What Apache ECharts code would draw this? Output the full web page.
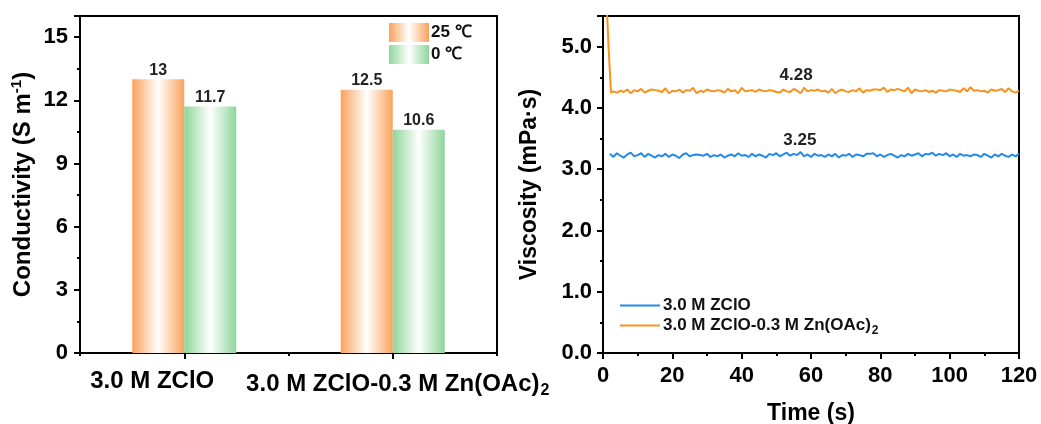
<!DOCTYPE html>
<html>
<head>
<meta charset="utf-8">
<script src="https://cdn.jsdelivr.net/npm/echarts@6/dist/echarts.min.js"></script>
<style>html,body{margin:0;padding:0;background:#fff;}#c{width:1041px;height:424px;}</style>
</head>
<body>
<div id="c"></div>
<script>
// ---------- data ----------
const categories = ['3.0 M ZClO', '3.0 M ZClO-0.3 M Zn(OAc)2'];
const cond25 = [13, 12.5];
const cond0 = [11.7, 10.6];
const barNames = ['25 ℃', '0 ℃'];

const lineNames = ['3.0 M ZClO', '3.0 M ZClO-0.3 M Zn(OAc)2'];
const viscAvg = [3.25, 4.28];

// blue: sampled every 1 s from t = 2 s
const blueStartT = 2;
const blueVals = [
3.25,3.20,3.26,3.22,3.19,3.24,3.27,3.21,3.23,3.26,3.20,3.25,3.22,3.19,3.23,3.21,3.25,3.20,3.24,3.22,
3.18,3.24,3.26,3.21,3.23,3.24,3.23,3.22,3.25,3.20,3.23,3.21,3.24,3.19,3.22,3.24,3.21,3.26,3.22,3.23,
3.20,3.25,3.21,3.24,3.22,3.19,3.25,3.23,3.26,3.21,3.24,3.27,3.22,3.25,3.23,3.28,3.21,3.24,3.20,3.25,
3.22,3.23,3.20,3.24,3.21,3.25,3.19,3.23,3.22,3.25,3.20,3.24,3.23,3.21,3.25,3.25,3.26,3.21,3.24,3.20,
3.23,3.25,3.22,3.19,3.23,3.21,3.25,3.22,3.24,3.26,3.21,3.25,3.24,3.27,3.22,3.25,3.23,3.26,3.21,3.24,
3.20,3.25,3.22,3.23,3.21,3.24,3.23,3.20,3.25,3.22,3.19,3.24,3.21,3.25,3.22,3.20,3.24,3.21,3.25
];

// orange: initial drop, then sampled every 1 s from t = 3 s
const orangeHeadT = [0.9, 1.6, 2.3];
const orangeHeadV = [5.9, 5.0, 4.25];
const orangeStartT = 3;
const orangeVals = [
4.27,4.25,4.28,4.26,4.30,4.24,4.29,4.27,4.31,4.25,4.28,4.30,4.29,4.28,4.26,4.32,4.24,4.28,4.27,4.30,
4.25,4.29,4.28,4.33,4.24,4.28,4.26,4.30,4.28,4.27,4.29,4.28,4.25,4.31,4.27,4.29,4.24,4.33,4.27,4.28,
4.29,4.26,4.30,4.28,4.27,4.29,4.28,4.26,4.25,4.30,4.27,4.26,4.31,4.28,4.24,4.33,4.27,4.29,4.28,4.30,
4.27,4.28,4.25,4.31,4.24,4.28,4.30,4.27,4.26,4.29,4.27,4.32,4.25,4.29,4.28,4.30,4.30,4.29,4.33,4.26,
4.30,4.29,4.31,4.29,4.27,4.33,4.24,4.30,4.28,4.27,4.29,4.26,4.28,4.25,4.29,4.28,4.27,4.30,4.29,4.28,
4.26,4.32,4.27,4.34,4.28,4.29,4.27,4.28,4.25,4.30,4.28,4.29,4.31,4.26,4.32,4.27,4.25,4.28
];

// ---------- build ----------
const blueData = blueVals.map((v, i) => [blueStartT + i, v]);
const orangeData = orangeHeadT.map((t, i) => [t, orangeHeadV[i]])
  .concat(orangeVals.map((v, i) => [orangeStartT + i, v]));

const FONT = "'Liberation Sans', Arial, sans-serif";
const ORANGE_BAR = '#FAA25C';
const GREEN_BAR = '#8ED59A';
const BLUE = '#2389EA';
const ORANGE = '#F7921E';

function grad(c) {
  return { type: 'linear', x: 0, y: 0, x2: 1, y2: 0,
    colorStops: [{ offset: 0, color: c }, { offset: 0.5, color: '#ffffff' }, { offset: 1, color: c }] };
}
function subFmt(s) {
  // render trailing "2" in "(OAc)2" as subscript
  if (/\)2$/.test(s)) return '{a|' + s.slice(0, -1) + '}{sub|2}';
  return '{a|' + s + '}';
}

// category label boxes: shift the first label left, second slightly right (as in the original)
const catLabelPad = [[0, 64, 0, 0], [0, 0, 0, 10]];
const categoryData = categories.map((c, i) => ({ value: c, textStyle: { padding: catLabelPad[i] } }));

const chart = echarts.init(document.getElementById('c'), null, { renderer: 'canvas' });

const axisLine = { show: true, lineStyle: { color: '#000', width: 2 } };

const option = {
  animation: false,
  backgroundColor: '#fff',
  textStyle: { fontFamily: FONT },
  grid: [
    { left: 80, top: 16, width: 417, height: 337, show: true, borderColor: '#000', borderWidth: 2,
      backgroundColor: 'transparent', containLabel: false, outerBoundsMode: 'none' },
    { left: 603, top: 16, width: 416, height: 337, show: true, borderColor: '#000', borderWidth: 2,
      backgroundColor: 'transparent', containLabel: false, outerBoundsMode: 'none' }
  ],
  legend: [
    {
      data: barNames,
      orient: 'vertical', left: 389, top: 23, padding: 0,
      itemWidth: 40, itemHeight: 19, itemGap: 3,
      icon: 'rect',
      textStyle: { fontFamily: FONT, fontSize: 17, fontWeight: 'bold', color: '#111', padding: [0, 0, 0, -3] }
    },
    {
      data: lineNames,
      orient: 'vertical', left: 620, top: 297, padding: 0,
      itemWidth: 40, itemHeight: 2, itemGap: 3,
      icon: 'rect',
      formatter: subFmt,
      textStyle: {
        fontFamily: FONT, fontSize: 17, fontWeight: 'bold', color: '#111', padding: [0, 0, 0, -2],
        rich: {
          a: { fontFamily: FONT, fontSize: 17, fontWeight: 'bold', color: '#111' },
          sub: { fontFamily: FONT, fontSize: 12, fontWeight: 'bold', color: '#111', verticalAlign: 'bottom', padding: [10, 0, 0, 1] }
        }
      }
    }
  ],
  xAxis: [
    {
      type: 'category', gridIndex: 0, data: categoryData,
      axisLine: axisLine,
      axisTick: { show: false },
      axisLabel: {
        interval: 0, hideOverlap: false,
        margin: 16, fontFamily: FONT, fontSize: 24, fontWeight: 'bold', color: '#000',
        formatter: subFmt,
        rich: {
          a: { fontFamily: FONT, fontSize: 24, fontWeight: 'bold', color: '#000' },
          sub: { fontFamily: FONT, fontSize: 16, fontWeight: 'bold', color: '#000', verticalAlign: 'bottom', padding: [14, 0, 0, 1] }
        }
      },
      splitLine: { show: false }
    },
    {
      type: 'value', gridIndex: 0, min: 0, max: 4, interval: 2, position: 'bottom',
      axisLine: { show: false },
      axisTick: { show: true, length: 3, lineStyle: { color: '#000', width: 2 } },
      minorTick: { show: true, splitNumber: 2, length: 6, lineStyle: { color: '#000', width: 2 } },
      axisLabel: { show: false },
      splitLine: { show: false }
    },
    {
      type: 'value', gridIndex: 1, min: 0, max: 120, interval: 20,
      name: 'Time (s)', nameLocation: 'middle', nameGap: 49,
      nameTextStyle: { fontFamily: FONT, fontSize: 23, fontWeight: 'bold', color: '#000' },
      axisLine: axisLine,
      axisTick: { show: true, length: 6, lineStyle: { color: '#000', width: 2 } },
      minorTick: { show: true, splitNumber: 2, length: 3, lineStyle: { color: '#000', width: 2 } },
      axisLabel: { margin: 12, fontFamily: FONT, fontSize: 22, fontWeight: 'bold', color: '#000' },
      splitLine: { show: false }
    }
  ],
  yAxis: [
    {
      type: 'value', gridIndex: 0, min: 0, max: 16, interval: 3,
      name: '{a|Conductivity (S m}{sup|-1}{a|)}', nameLocation: 'middle', nameGap: 43,
      nameTextStyle: {
        fontFamily: FONT, fontSize: 24, fontWeight: 'bold', color: '#000',
        rich: {
          a: { fontFamily: FONT, fontSize: 24, fontWeight: 'bold', color: '#000', lineHeight: 28 },
          sup: { fontFamily: FONT, fontSize: 15, fontWeight: 'bold', color: '#000', verticalAlign: 'top', lineHeight: 28 }
        }
      },
      axisLine: axisLine,
      axisTick: { show: true, length: 6, lineStyle: { color: '#000', width: 2 } },
      minorTick: { show: true, splitNumber: 2, length: 3, lineStyle: { color: '#000', width: 2 } },
      axisLabel: { margin: 12, fontFamily: FONT, fontSize: 22, fontWeight: 'bold', color: '#000', showMaxLabel: false },
      splitLine: { show: false }
    },
    {
      type: 'value', gridIndex: 1, min: 0, max: 5.5, interval: 1,
      name: 'Viscosity (mPa·s)', nameLocation: 'middle', nameGap: 62,
      nameTextStyle: { fontFamily: FONT, fontSize: 23, fontWeight: 'bold', color: '#000' },
      axisLine: axisLine,
      axisTick: { show: true, length: 6, lineStyle: { color: '#000', width: 2 } },
      minorTick: { show: true, splitNumber: 2, length: 3, lineStyle: { color: '#000', width: 2 } },
      axisLabel: { margin: 11, fontFamily: FONT, fontSize: 22, fontWeight: 'bold', color: '#000', showMaxLabel: false,
        formatter: v => v.toFixed(1) },
      splitLine: { show: false }
    }
  ],
  series: [
    {
      name: barNames[0], type: 'bar', xAxisIndex: 0, yAxisIndex: 0,
      data: cond25, barWidth: 52, barGap: '0%',
      itemStyle: { color: grad(ORANGE_BAR) },
      label: { show: true, position: 'top', distance: 1, fontFamily: FONT, fontSize: 16, fontWeight: 'bold', color: '#222' }
    },
    {
      name: barNames[1], type: 'bar', xAxisIndex: 0, yAxisIndex: 0,
      data: cond0, barWidth: 52, barGap: '0%',
      itemStyle: { color: grad(GREEN_BAR) },
      label: { show: true, position: 'top', distance: 1, fontFamily: FONT, fontSize: 16, fontWeight: 'bold', color: '#222' }
    },
    {
      name: lineNames[0], type: 'line', xAxisIndex: 2, yAxisIndex: 1,
      data: blueData, symbol: 'none', clip: true,
      lineStyle: { color: BLUE, width: 2 }, itemStyle: { color: BLUE },
      markPoint: {
        symbol: 'circle', symbolSize: 0, silent: true,
        data: [{ coord: [56.8, viscAvg[0]], value: viscAvg[0] }],
        label: { show: true, position: 'top', distance: 5, formatter: String(viscAvg[0]),
          fontFamily: FONT, fontSize: 17, fontWeight: 'bold', color: '#222' }
      }
    },
    {
      name: lineNames[1], type: 'line', xAxisIndex: 2, yAxisIndex: 1,
      data: orangeData, symbol: 'none', clip: true,
      lineStyle: { color: ORANGE, width: 2 }, itemStyle: { color: ORANGE },
      markPoint: {
        symbol: 'circle', symbolSize: 0, silent: true,
        data: [{ coord: [55.7, viscAvg[1]], value: viscAvg[1] }],
        label: { show: true, position: 'top', distance: 7, formatter: String(viscAvg[1]),
          fontFamily: FONT, fontSize: 17, fontWeight: 'bold', color: '#222' }
      }
    }
  ]
};
chart.setOption(option);
</script>
</body>
</html>
